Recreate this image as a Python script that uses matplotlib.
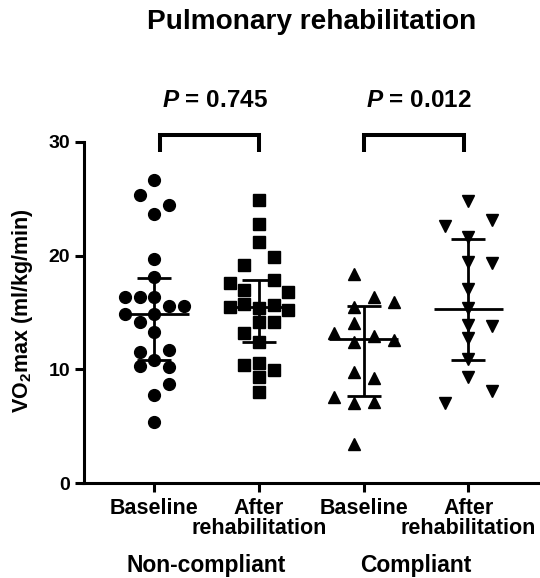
import numpy as np
import matplotlib.pyplot as plt

plt.rcParams['font.family'] = 'Liberation Sans'
plt.rcParams['font.weight'] = 'bold'
plt.rcParams['mathtext.fontset'] = 'custom'
plt.rcParams['mathtext.rm'] = 'Liberation Sans:bold'
plt.rcParams['mathtext.bf'] = 'Liberation Sans:bold'
plt.rcParams['mathtext.it'] = 'Liberation Sans:italic:bold'

# data (VO2max, ml/kg/min)
tick_labels = ['Baseline', 'After\nrehabilitation', 'Baseline', 'After\nrehabilitation']
group_labels = ['Non-compliant', 'Compliant']
p_labels = ['0.745', '0.012']

nc_base = [26.7, 25.3, 24.5, 23.7, 19.7, 18.1, 16.4, 16.4, 16.4, 15.6, 15.6, 14.9,
           14.9, 14.2, 13.3, 11.5, 11.7, 10.8, 10.3, 10.2, 8.7, 7.7, 5.4]
nc_base_slot = [0, -1, 1, 0, 0, 0, -2, -1, 0, 1, 2, -2, 0, -1, 0, -1, 1, 0, -1, 1, 1, 0, 0]

nc_after = [24.9, 22.8, 21.2, 19.2, 19.9, 17.6, 17.9, 17.0, 16.8, 15.5, 15.75, 15.4,
            15.7, 15.2, 14.2, 14.2, 13.2, 12.4, 10.4, 10.6, 9.9, 9.3, 8.0]
nc_after_slot = [0, 0, 0, -1, 1, -2, 1, -1, 2, -2, -1, 0, 1, 2, 0, 1, -1, 0, -1, 0, 1, 0, 0]

c_base = [18.4, 16.4, 15.96, 15.5, 14.05, 13.2, 12.9, 12.4, 12.6, 9.8, 9.2, 7.6, 7.0, 7.15, 3.4]
c_base_slot = [-0.5, 0.5, 1.5, -0.5, -0.5, -1.5, 0.5, -0.5, 1.5, -0.5, 0.5, -1.5, -0.5, 0.5, -0.5]

c_after = [24.8, 22.6, 23.1, 21.6, 19.4, 19.35, 17.05, 15.4, 13.9, 13.8, 12.8, 10.9, 9.35, 8.1, 7.06]
c_after_slot = [0, -1, 1, 0, 0, 1, 0, 0, 0, 1, 0, 0, 0, 1, -1]

# median and interquartile range
medians = [14.9, 15.5, 12.7, 15.3]
q1 = [10.8, 12.4, 7.65, 10.8]
q3 = [18.07, 17.85, 15.6, 21.5]

groups = [nc_base, nc_after, c_base, c_after]
slots = [nc_base_slot, nc_after_slot, c_base_slot, c_after_slot]
steps = [0.14, 0.14, 0.19, 0.223]
markers = ['o', 's', '^', 'v']

fig = plt.figure(figsize=(5.4, 5.78), dpi=100)
ax = fig.add_axes([83.5 / 540, 1 - 483 / 578, 1 - 83.5 / 540, (483 - 142) / 578])

for i, (vals, sl, st, m) in enumerate(zip(groups, slots, steps, markers)):
    x = i + np.array(sl) * st
    ax.plot(x, vals, linestyle='none', marker=m, ms=8.5, color='black', clip_on=False)

xs = np.arange(4)
ax.hlines(medians, xs - 0.33, xs + 0.33, color='black', lw=2, zorder=3)
ax.hlines(q1, xs - 0.163, xs + 0.163, color='black', lw=2, zorder=3)
ax.hlines(q3, xs - 0.163, xs + 0.163, color='black', lw=2, zorder=3)
ax.vlines(xs, q1, q3, color='black', lw=2, zorder=3)

# significance brackets
for (a, b), xt, p in zip([(0.055, 1.0), (2.0, 2.96)], [0.575, 2.53], p_labels):
    ax.plot([a, a, b, b], [29.15, 30.65, 30.65, 29.15], color='black', lw=2.9,
            clip_on=False, solid_capstyle='butt', solid_joinstyle='miter')
    ax.text(xt, 33.1, r'$\it{P}$ = ' + p, ha='center', va='baseline', fontsize=17.5,
            fontweight='bold')

ax.set_xlim(-0.676, 3.684)
ax.set_ylim(0, 30)
ax.set_yticks([0, 10, 20, 30])
ax.set_xticks(xs)
ax.set_xticklabels(tick_labels, linespacing=0.95)
for s in ['top', 'right']:
    ax.spines[s].set_visible(False)
for s in ['left', 'bottom']:
    ax.spines[s].set_linewidth(2.2)
ax.tick_params(axis='both', length=6.5, width=2.2)
ax.tick_params(axis='y', labelsize=14, pad=3)
ax.tick_params(axis='x', labelsize=15.5, pad=4.5)

fig.text(23 / 540, 1 - 311 / 578, r'VO$_2$max (ml/kg/min)', rotation=90,
         ha='center', va='center', fontsize=15.5, fontweight='bold')
for gx, g in zip([0.5, 2.5], group_labels):
    px = (83.5 + (gx + 0.676) / 4.36 * 456.5) / 540
    fig.text(px, 1 - 572 / 578, g, ha='center', va='baseline', fontsize=16.5,
             fontweight='bold')
fig.text(312 / 540, 1 - 29 / 578, 'Pulmonary rehabilitation', ha='center',
         va='baseline', fontsize=20.2, fontweight='bold')

fig.savefig('out.png', dpi=100)
